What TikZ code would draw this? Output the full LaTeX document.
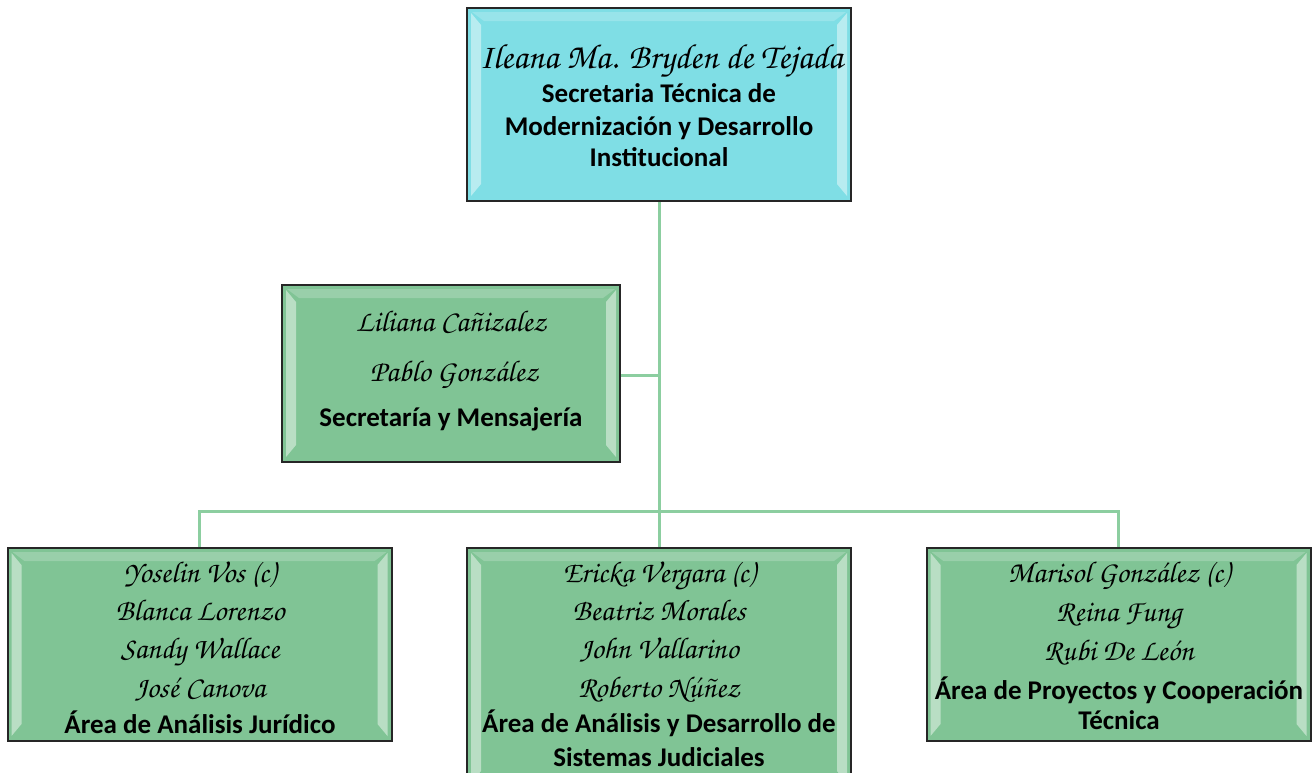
\documentclass[tikz,border=0pt]{standalone}
\usepackage{fontspec}
\setmainfont{Carlito}
\newfontfamily\scriptf{texgyrechorus-mediumitalic.otf}
\usetikzlibrary{calc}
\definecolor{cyanfill}{RGB}{127,222,229}
\definecolor{greenfill}{RGB}{128,196,149}
\definecolor{linkgreen}{RGB}{140,206,160}
\tikzset{
  orgbox/.style={draw=black!85, line width=2pt, minimum width=384pt, minimum height=193pt, inner sep=0pt},
  cyanbox/.style={orgbox, fill=cyanfill},
  greenbox/.style={orgbox, fill=greenfill},
  link/.style={draw=linkgreen, line width=3pt},
  nm/.style={anchor=base, inner sep=0pt, font=\scriptf\fontsize{30}{36}\selectfont},
  bignm/.style={nm, font=\scriptf\fontsize{35}{40}\selectfont},
  ttl/.style={anchor=base, inner sep=0pt, font=\bfseries\fontsize{27}{32}\selectfont},
  sideglow/.style={fill=white, opacity=0.45},
  topglow/.style={fill=white, opacity=0.2},
}
\newcommand{\bevel}[1]{% #1 = node name
  \fill[sideglow]
    ($(#1.north west)+(5,6)$) -- ($(#1.north west)+(15,18)$) -- ($(#1.south west)+(15,-18)$) -- ($(#1.south west)+(5,-6)$) -- cycle;
  \fill[sideglow]
    ($(#1.north east)+(-5,6)$) -- ($(#1.north east)+(-15,18)$) -- ($(#1.south east)+(-15,-18)$) -- ($(#1.south east)+(-5,-6)$) -- cycle;
  \fill[topglow]
    ($(#1.north west)+(6,5)$) -- ($(#1.north east)+(-6,5)$) -- ($(#1.north east)+(-18,14)$) -- ($(#1.north west)+(18,14)$) -- cycle;
}
\begin{document}
\begin{tikzpicture}[x=1pt,y=-1pt]
\useasboundingbox (0,0) rectangle (1312,772);
\fill[white] (0,0) rectangle (1312,772);
% boxes
\node[cyanbox] (top) at (659,104.5) {};
\node[greenbox, minimum width=338pt, minimum height=177pt] (mid) at (451,373.5) {};
\node[greenbox] (bl) at (199.5,644.5) {};
\node[greenbox, minimum height=240pt] (bm) at (659,668) {};
\node[greenbox] (br) at (1118.5,644.5) {};
\bevel{top}
\bevel{mid}
\bevel{bl}
\bevel{bm}
\bevel{br}
% connectors
\coordinate (bus) at (659,511);
\coordinate (midjoin) at (659,375);
\draw[link] (top.south) -- (midjoin) -- (mid.east |- midjoin);
\draw[link] (midjoin) -- (bus);
\draw[link] (bus) -- (bus -| bl.north) -- (bl.north);
\draw[link] (bus) -- (bm.north);
\draw[link] (bus) -- (bus -| br.north) -- (br.north);
% top texts
\node[bignm] (t1) at (661,68) {Ileana Ma. Bryden de Tejada};
\node[ttl] (t2) at (659,102) {Secretaria Técnica de};
\node[ttl] (t3) at (659,135) {Modernización y Desarrollo};
\node[ttl] (t4) at (659,166) {Institucional};
% middle texts
\node[nm] (m1) at (451,331) {Liliana Cañizalez};
\node[nm] (m2) at (454,381) {Pablo González};
\node[ttl] (m3) at (451,426) {Secretaría y Mensajería};
% bottom left
\node[nm] (a1) at (200,582) {Yoselin Vos (c)};
\node[nm] (a2) at (200,620) {Blanca Lorenzo};
\node[nm] (a3) at (200,658) {Sandy Wallace};
\node[nm] (a4) at (200,697) {José Canova};
\node[ttl] (a5) at (200,733) {Área de Análisis Jurídico};
% bottom middle
\node[nm] (b1) at (659,582) {Ericka Vergara (c)};
\node[nm] (b2) at (659,620) {Beatriz Morales};
\node[nm] (b3) at (659,658) {John Vallarino};
\node[nm] (b4) at (659,697) {Roberto Núñez};
\node[ttl] (b5) at (659,732) {Área de Análisis y Desarrollo de};
\node[ttl] (b6) at (659,766) {Sistemas Judiciales};
% bottom right
\node[nm] (c1) at (1119,582) {Marisol González (c)};
\node[nm] (c2) at (1119,621) {Reina Fung};
\node[nm] (c3) at (1119,660) {Rubi De León};
\node[ttl] (c4) at (1119,699) {Área de Proyectos y Cooperación};
\node[ttl] (c5) at (1119,729) {Técnica};
\end{tikzpicture}
\end{document}
